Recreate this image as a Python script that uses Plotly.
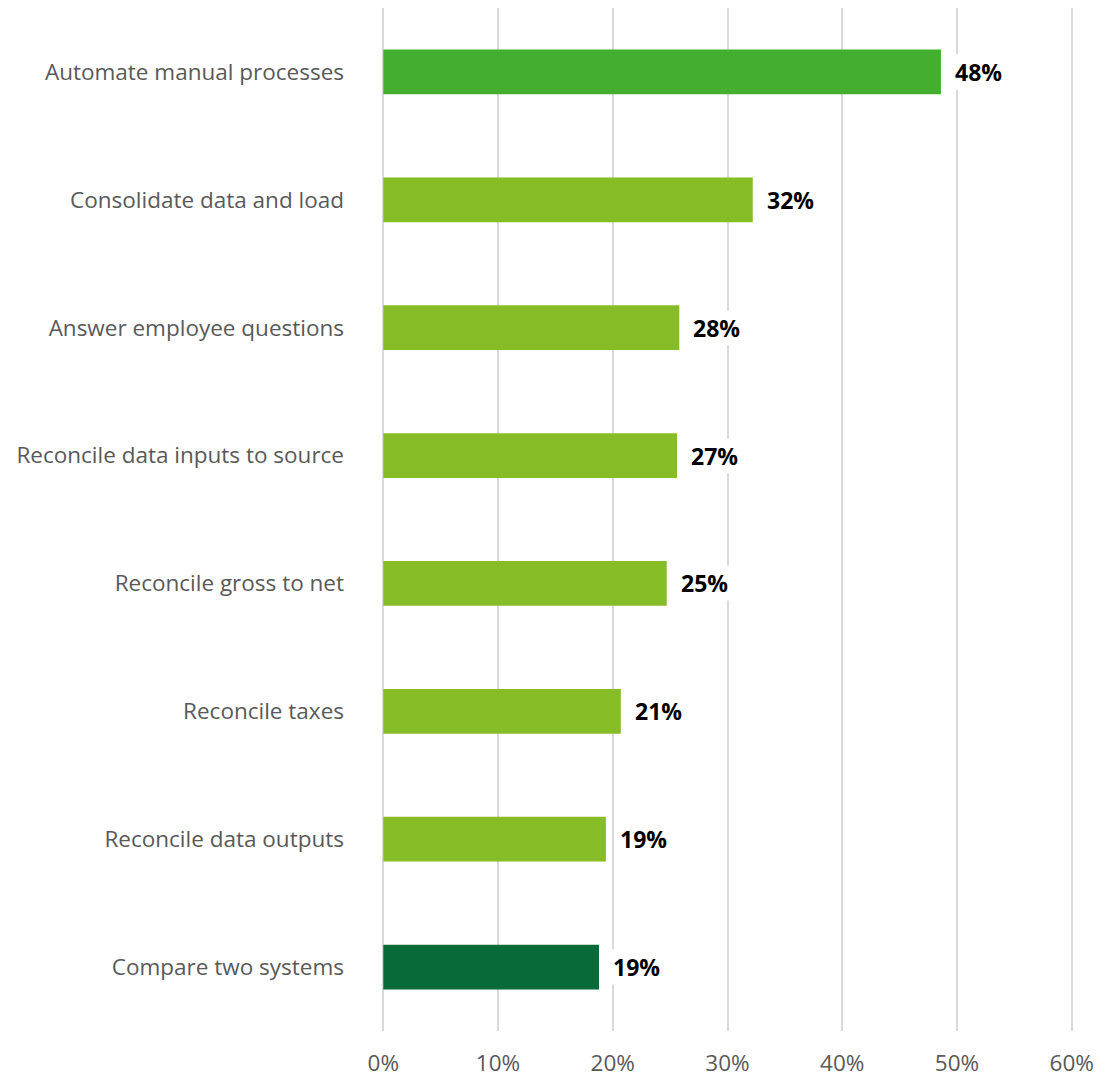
import plotly.graph_objects as go

# datos (de arriba hacia abajo en el gráfico)
categorias = [
    "Automate manual processes",
    "Consolidate data and load",
    "Answer employee questions",
    "Reconcile data inputs to source",
    "Reconcile gross to net",
    "Reconcile taxes",
    "Reconcile data outputs",
    "Compare two systems",
]
valores = [48.6, 32.2, 25.8, 25.6, 24.7, 20.7, 19.4, 18.8]
etiquetas = ["48%", "32%", "28%", "27%", "25%", "21%", "19%", "19%"]
colores = ["#44AF2E"] + ["#86BC26"] * 6 + ["#066B39"]

fig = go.Figure()
fig.add_trace(
    go.Bar(
        x=valores,
        y=categorias,
        orientation="h",
        marker={"color": colores, "line": {"width": 0}},
        hoverinfo="skip",
    )
)

for cat, val, lab in zip(categorias, valores, etiquetas):
    fig.add_annotation(
        x=val, y=cat, text=f"<b>{lab}</b>",
        xanchor="left", xshift=12, showarrow=False,
        bgcolor="white",
        font={"family": "Open Sans", "size": 23, "color": "#000000"},
    )

# la página agrega 8px de margen al body: se compensa en tamaño y márgenes
fig.update_layout(
    width=1099,
    height=1069,
    margin={"l": 373, "r": 33, "t": 0, "b": 46},
    plot_bgcolor="white",
    paper_bgcolor="white",
    bargap=0.65,
    showlegend=False,
    font={"family": "Open Sans", "size": 22.5, "color": "#595959"},
    xaxis={
        "range": [-0.2, 60.2],
        "tickvals": [0, 10, 20, 30, 40, 50, 60],
        "ticktext": ["0%", "10%", "20%", "30%", "40%", "50%", "60%"],
        "showgrid": True,
        "gridcolor": "#D9D9D9",
        "gridwidth": 2,
        "zeroline": False,
        "showline": False,
        "automargin": False,
        "layer": "below traces",
        "ticklabelstandoff": 16,
        "tickfont": {"size": 22.5, "color": "#595959"},
    },
    yaxis={
        "autorange": "reversed",
        "showgrid": False,
        "zeroline": False,
        "showline": False,
        "automargin": False,
        "ticklabelstandoff": 36,
        "tickfont": {"size": 22.5, "color": "#595959"},
    },
)

fig.write_html("out.html")
